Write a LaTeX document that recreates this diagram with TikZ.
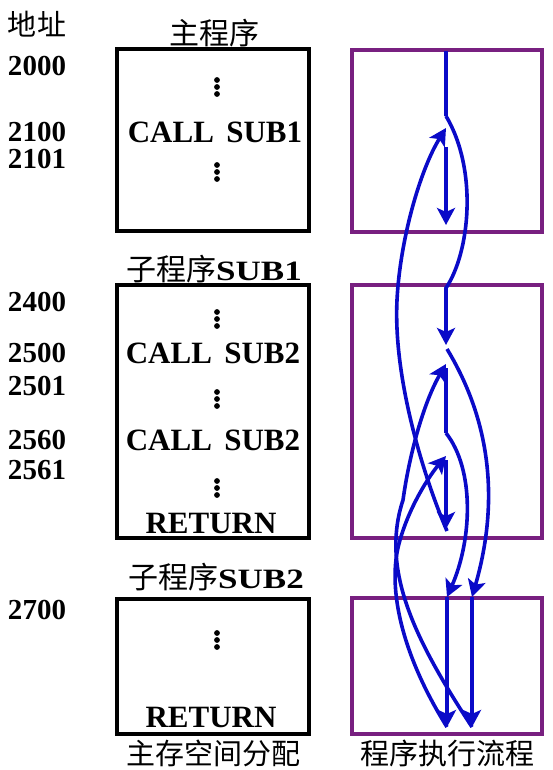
\documentclass[tikz,border=0pt]{standalone}
\usepackage{fontspec}
\setmainfont{Liberation Serif}
\newfontfamily\cjk{Noto Sans CJK SC}
\usetikzlibrary{positioning, arrows.meta}
\definecolor{flowpurple}{RGB}{120,32,128}
\definecolor{flowblue}{RGB}{10,10,200}
\tikzset{
  memblock/.style={draw, line width=4pt, minimum width=192pt, inner sep=0pt},
  flowblock/.style={draw=flowpurple, line width=3.8pt, minimum width=190pt, inner sep=0pt},
  addr/.style={font=\fontsize{29}{30}\selectfont\bfseries},
  instr/.style={font=\fontsize{31}{32}\selectfont\bfseries},
  heading/.style={font=\cjk\fontsize{30}{32}\selectfont},
  flowline/.style={flowblue, line width=3.6pt},
  flow/.style={flowline, -{Stealth[length=17pt, width=18pt, inset=4pt]}},
}
\newcommand{\subname}[1]{{\rmfamily\bfseries\fontsize{28}{30}\selectfont\scalebox{1.25}[1]{#1}}}
\newcommand{\colondots}[2]{\foreach \dy in {-7,0,7} \fill (#1,#2+\dy) circle (2.9);}

\begin{document}
\begin{tikzpicture}[x=1pt, y=-1pt]
\useasboundingbox (0,0) rectangle (552,770);

\node[memblock, minimum height=182pt] (mainmem) at (213,140) {};
\node[memblock, minimum height=253pt] (sub1mem) at (213,411.5) {};
\node[memblock, minimum height=135pt] (sub2mem) at (213,666.5) {};
\node[flowblock, minimum height=182pt] (mainflow) at (447,141) {};
\node[flowblock, minimum height=253pt] (sub1flow) at (447,411.5) {};
\node[flowblock, minimum height=136pt] (sub2flow) at (447,666) {};

\node[heading, font=\cjk\fontsize{29}{30}\selectfont] (addrhead) at (37,24) {地址};
\node[heading] (maintitle) at (214,33) {主程序};
\node[heading] (sub1title) at (214,269) {子程序\subname{SUB1}};
\node[heading] (sub2title) at (216,577) {子程序\subname{SUB2}};
\node[heading, font=\cjk\fontsize{29}{30}\selectfont, inner sep=0pt, below=4pt of sub2mem] (memlabel) {主存空间分配};
\node[heading, font=\cjk\fontsize{29}{30}\selectfont, inner sep=0pt, below=4pt of sub2flow] (flowlabel) {程序执行流程};

\node[addr] (a2000) at (37,66) {2000};
\node[addr] (a2100) at (37,132) {2100};
\node[addr] (a2101) at (37,159) {2101};
\node[addr] (a2400) at (37,302) {2400};
\node[addr] (a2500) at (37,353) {2500};
\node[addr] (a2501) at (37,386) {2501};
\node[addr] (a2560) at (37,440) {2560};
\node[addr] (a2561) at (37,470) {2561};
\node[addr] (a2700) at (37,610) {2700};

\node[instr] (call1) at (215,132) {CALL\hspace{.4em}SUB1};
\node[instr] (call2a) at (213,353) {CALL\hspace{.4em}SUB2};
\node[instr] (call2b) at (213,440) {CALL\hspace{.4em}SUB2};
\node[instr] (ret1) at (211,523) {RETURN};
\node[instr] (ret2) at (211,717) {RETURN};
\colondots{217}{87}
\colondots{217}{172}
\colondots{217}{319}
\colondots{217}{399}
\colondots{217}{488}
\colondots{217}{640}

\coordinate (f2000) at (446,51);
\coordinate (f2100) at (446,116);
\coordinate (f2101in) at (446,128);
\coordinate (f2101) at (446,147);
\coordinate (fmainend) at (446,225);
\coordinate (f2400) at (446,288);
\coordinate (f2500) at (446,345);
\coordinate (f2500out) at (447,349);
\coordinate (f2501in) at (446,364);
\coordinate (f2501) at (446,368);
\coordinate (f2560) at (446,433);
\coordinate (f2561in) at (446,456);
\coordinate (f2561) at (446,460);
\coordinate (fret1) at (446,529);
\coordinate (fret1out) at (447,531);
\coordinate (f2700a) at (472,597);
\coordinate (f2700b) at (447,597);
\coordinate (fret2a) at (472,727);
\coordinate (fret2b) at (447,727);

\draw[flowline] (f2000) -- (f2100);
\draw[flow] (f2100) .. controls (478,170) and (470,252) .. (f2400) -- (f2500);
\draw[flow] (fret1out) .. controls (425,480) and (393,380) .. (397,300) .. controls (400,240) and (420,170) .. (f2101in);
\draw[flow] (f2101) -- (fmainend);
\draw[flow] (f2500out) .. controls (490,420) and (500,500) .. (f2700a);
\draw[flow] (f2700a) -- (fret2a);
\draw[flow] (fret2a) .. controls (415,640) and (380,570) .. (403,500) .. controls (410,450) and (425,400) .. (f2501in);
\draw[flowline] (f2501) -- (f2560);
\draw[flow] (f2560) .. controls (475,470) and (472,540) .. (f2700b);
\draw[flow] (f2700b) -- (fret2b);
\draw[flow] (fret2b) .. controls (405,660) and (385,590) .. (400,540) .. controls (410,505) and (430,475) .. (f2561in);
\draw[flow] (f2561) -- (fret1);
\end{tikzpicture}
\end{document}
